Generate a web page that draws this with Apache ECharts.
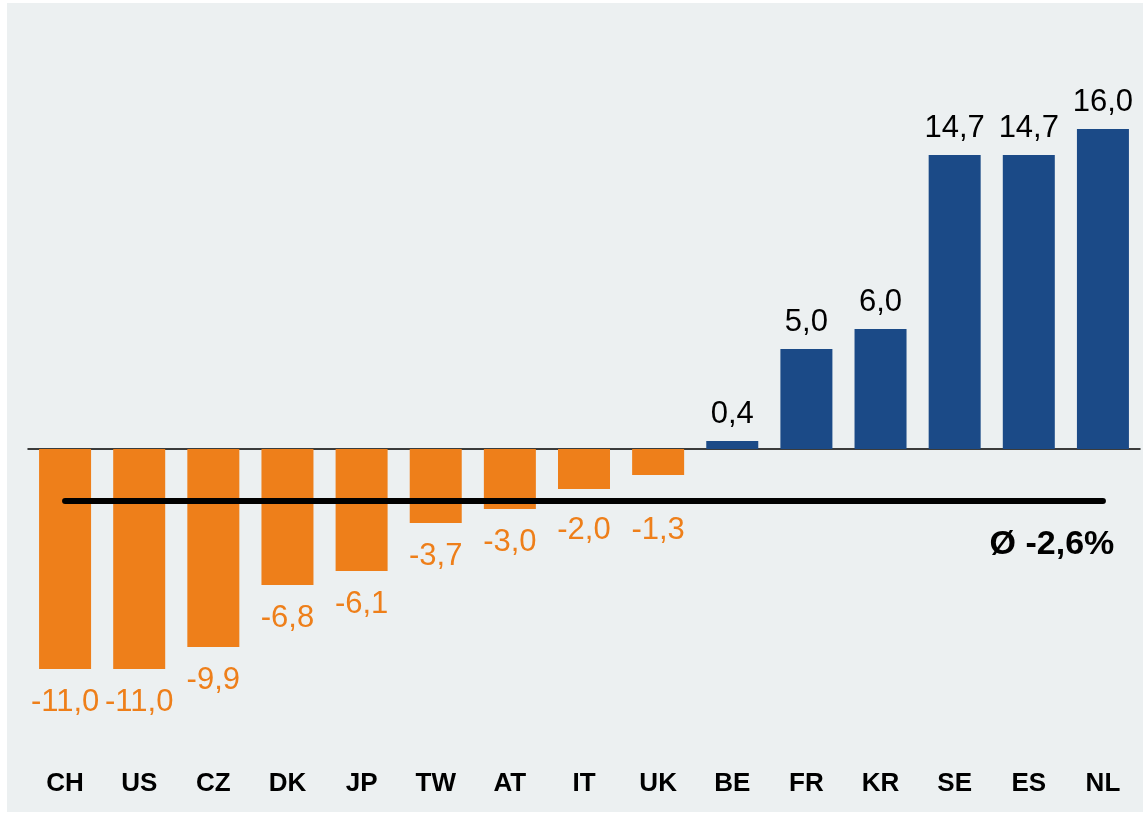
<!DOCTYPE html>
<html>
<head>
<meta charset="utf-8">
<script src="https://cdn.jsdelivr.net/npm/echarts@6/dist/echarts.min.js"></script>
<style>
  html, body { margin: 0; padding: 0; background: #fff; }
  #bg { position: absolute; left: 7px; top: 3px; width: 1136px; height: 809px; background: #ECF0F1; }
  #chart { position: absolute; left: 0; top: 0; width: 1143px; height: 815px; }
</style>
</head>
<body>
<div id="bg"></div>
<div id="chart"></div>
<script>
const COUNTRIES = ["CH", "US", "CZ", "DK", "JP", "TW", "AT", "IT", "UK", "BE", "FR", "KR", "SE", "ES", "NL"];
const CHANGES = [-11.0, -11.0, -9.9, -6.8, -6.1, -3.7, -3.0, -2.0, -1.3, 0.4, 5.0, 6.0, 14.7, 14.7, 16.0];
const AVERAGE = -2.6;

const ORANGE = "#EE7F1A";
const BLUE = "#1B4A87";
const FONT = "'Liberation Sans', Arial, sans-serif";

const Y_MIN = -16, Y_MAX = 18;
const GRID_TOP = 89, GRID_BOTTOM = 46, CHART_H = 815;
const PX_PER_UNIT = (CHART_H - GRID_TOP - GRID_BOTTOM) / (Y_MAX - Y_MIN);

function fmt(v) { return v.toFixed(1).replace(".", ","); }

// negative labels sit below the bar, but are pushed below the average line when they would hit it
function negDistance(v) {
  const barBottomToLine = (v - AVERAGE) * PX_PER_UNIT; // px from bar end down to avg line
  const centerOffset = Math.max(31, barBottomToLine + 27);
  return centerOffset - 13.5;
}

const chart = echarts.init(document.getElementById("chart"));

chart.setOption({
  backgroundColor: "transparent",
  animation: false,
  grid: { left: 28, right: 3, top: GRID_TOP, bottom: GRID_BOTTOM },
  xAxis: [
    {
      type: "category",
      data: COUNTRIES,
      position: "bottom",
      axisLine: { show: false, onZero: false },
      axisTick: { show: false },
      axisLabel: { color: "#000", fontFamily: FONT, fontSize: 26, fontWeight: "bold", margin: 2 }
    },
    {
      type: "category",
      data: COUNTRIES,
      position: "top",
      axisLine: { show: true, onZero: true, lineStyle: { color: "#000", width: 1.5 } },
      axisTick: { show: false },
      axisLabel: { show: false }
    }
  ],
  yAxis: { type: "value", min: Y_MIN, max: Y_MAX, show: false, splitLine: { show: false } },
  series: [{
    type: "bar",
    barWidth: 52,
    data: CHANGES.map(v => ({
      value: v,
      itemStyle: { color: v < 0 ? ORANGE : BLUE },
      label: {
        position: v < 0 ? "bottom" : "top",
        color: v < 0 ? ORANGE : "#000",
        distance: v < 0 ? negDistance(v) : 11
      }
    })),
    label: {
      show: true,
      fontFamily: FONT,
      fontSize: 31,
      formatter: p => fmt(p.value)
    },
    markLine: {
      silent: true,
      symbol: "none",
      lineStyle: { color: "#000", width: 6, type: "solid", cap: "round" },
      label: { show: false },
      data: [[{ coord: [0, AVERAGE] }, { coord: [COUNTRIES.length - 1, AVERAGE] }]]
    },
    markPoint: {
      silent: true,
      symbol: "circle",
      symbolSize: 0,
      data: [{ coord: [COUNTRIES.length - 1, AVERAGE] }],
      label: {
        show: true,
        position: "inside",
        offset: [-51, 44],
        color: "#000",
        fontFamily: FONT,
        fontSize: 34,
        fontWeight: "bold",
        formatter: () => "Ø " + fmt(AVERAGE) + "%"
      }
    }
  }]
});
</script>
</body>
</html>
